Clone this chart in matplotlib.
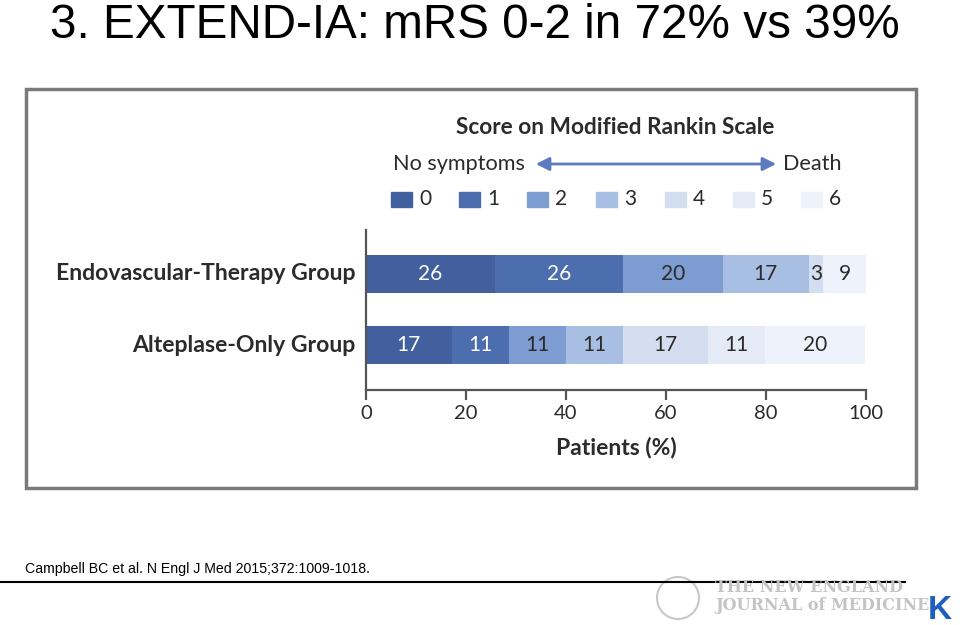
import matplotlib.pyplot as plt
from matplotlib.patches import Rectangle, FancyArrowPatch, Ellipse
import numpy as np

# --- data ---
groups = ['Endovascular-Therapy Group', 'Alteplase-Only Group']
mrs_scores = ['0', '1', '2', '3', '4', '5', '6']
endo_pct = [25.7, 25.7, 20.0, 17.1, 2.9, 0.0, 8.6]
alte_pct = [17.1, 11.4, 11.4, 11.4, 17.1, 11.4, 20.0]
endo_labels = ['26', '26', '20', '17', '3', '', '9']
alte_labels = ['17', '11', '11', '11', '17', '11', '20']
x_ticks = [0, 20, 40, 60, 80, 100]

colors = ['#41609d', '#4c6eae', '#7d9cd1', '#a8bee3', '#d4def1', '#e4eaf6', '#eef2fa']
text_colors = ['white', 'white', '#2b2b2b', '#2b2b2b', '#2b2b2b', '#2b2b2b', '#2b2b2b']

W, H = 960, 625
fig = plt.figure(figsize=(9.6, 6.25), dpi=100)

def fx(px):
    return px / W

def fy(py):
    return 1 - py / H

chart_font = 'Lato'
dark = '#2b2b2b'

# --- title / frame ---
fig.text(fx(50), fy(38), '3. EXTEND-IA: mRS 0-2 in 72% vs 39%', fontsize=34.3,
         family='Liberation Sans', color='black', va='baseline', ha='left')
fig.patches.append(Rectangle((fx(26), fy(488)), fx(890), (488 - 89) / H,
                             transform=fig.transFigure, fill=False,
                             edgecolor='#7a7a7a', lw=2.5))

# --- bars ---
ax = fig.add_axes([fx(366), fy(390), fx(500), 160 / H])
ax.set_xlim(0, 100)
ax.set_ylim(160, 0)
bar_y = [44, 115]
for y, vals, labs in zip(bar_y, [endo_pct, alte_pct], [endo_labels, alte_labels]):
    left = 0
    for i, (v, lab) in enumerate(zip(vals, labs)):
        if v > 0:
            ax.barh(y, v, left=left, height=38, color=colors[i], edgecolor='none')
            if lab:
                ax.text(left + v / 2, y, lab, ha='center', va='center',
                        fontsize=15, family=chart_font, color=text_colors[i])
        left += v

for s in ['top', 'right']:
    ax.spines[s].set_visible(False)
for s in ['left', 'bottom']:
    ax.spines[s].set_color('#555555')
    ax.spines[s].set_linewidth(1.6)
ax.set_yticks([])
ax.set_xticks(x_ticks)
ax.set_xticklabels([str(t) for t in x_ticks], fontsize=14.5, family=chart_font, color=dark)
ax.tick_params(axis='x', length=7, width=1.6, color='#555555', pad=4)
ax.set_xlabel('Patients (%)', fontsize=16.5, family=chart_font, fontweight='bold',
              color=dark, labelpad=10)

for y, g in zip(bar_y, groups):
    ax.text(-2.2, y, g, ha='right', va='center', fontsize=16.6, family=chart_font,
            fontweight='bold', color=dark)

# --- legend ---
fig.text(fx(615), fy(128), 'Score on Modified Rankin Scale', ha='center', va='center',
         fontsize=16.3, family=chart_font, fontweight='bold', color=dark)
fig.text(fx(525), fy(164), 'No symptoms', ha='right', va='center',
         fontsize=15.6, family=chart_font, color=dark)
fig.text(fx(783), fy(164), 'Death', ha='left', va='center',
         fontsize=15.6, family=chart_font, color=dark)
arrow = FancyArrowPatch((fx(533), fy(164)), (fx(779), fy(164)),
                        transform=fig.transFigure, arrowstyle='<|-|>,head_length=8,head_width=4',
                        color='#5b7bbf', lw=2)
fig.patches.append(arrow)

sq_x = [391, 459, 527, 596, 665, 733, 801]
for i, s in enumerate(mrs_scores):
    fig.patches.append(Rectangle((fx(sq_x[i]), fy(207)), fx(21), 15 / H,
                                 transform=fig.transFigure, color=colors[i]))
    fig.text(fx(sq_x[i] + 28), fy(199), s, ha='left', va='center',
             fontsize=15, family=chart_font, color=dark)

# --- footer ---
fig.text(fx(25), fy(573), 'Campbell BC et al. N Engl J Med 2015;372:1009-1018.',
         fontsize=10.2, family='Liberation Sans', color='black', va='baseline')
fig.lines.append(plt.Line2D([0, fx(905)], [fy(582), fy(582)], transform=fig.transFigure,
                            color='black', lw=1.5))
fig.patches.append(Ellipse((fx(678), fy(598)), fx(42), 42 / H, transform=fig.transFigure,
                           fill=False, edgecolor='#c8c8c8', lw=1.5))
fig.text(fx(715), fy(592), 'THE NEW ENGLAND', fontsize=11.5, family='DejaVu Serif',
         color='#c4c4c4', va='baseline', fontweight='bold')
fig.text(fx(715), fy(610), 'JOURNAL of MEDICINE', fontsize=11.5, family='DejaVu Serif',
         color='#c4c4c4', va='baseline', fontweight='bold')
fig.text(fx(940), fy(619), 'K', fontsize=24, family='Liberation Sans', fontweight='bold',
         color='#1f5fbf', va='baseline', ha='center')

fig.savefig('out.png', dpi=100)
